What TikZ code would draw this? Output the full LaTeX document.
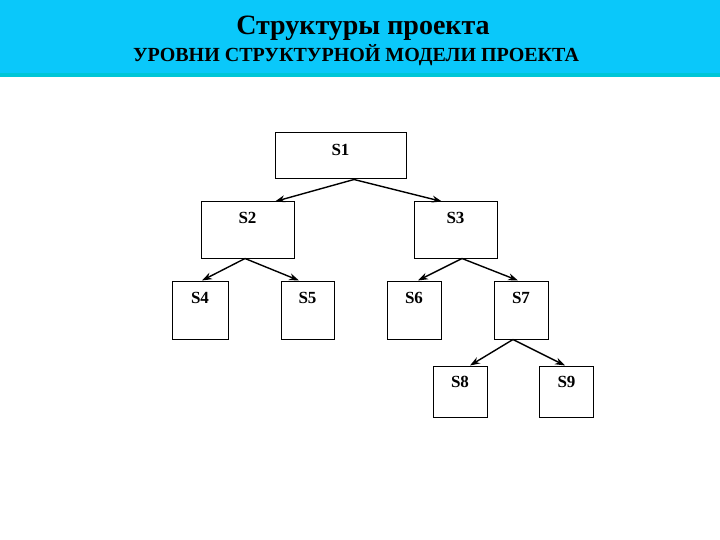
\documentclass[tikz,border=0pt]{standalone}
\usepackage{fontspec}
\setmainfont{Liberation Serif}
\usetikzlibrary{arrows.meta}
\definecolor{shapka}{RGB}{10,200,250}
\definecolor{polosa}{RGB}{0,198,215}
\begin{document}
\begin{tikzpicture}[x=1pt,y=-1pt,
  blok/.style={draw,line width=1pt,inner sep=0pt},
  metka/.style={font=\bfseries\fontsize{17}{17}\selectfont},
  strelka/.style={line width=1.4pt,-{Stealth[length=10pt,width=7pt]}}]
\useasboundingbox[fill=white] (0,0) rectangle (720,540);

%Шапка
\fill[shapka] (0,0) rectangle (720,73);
\fill[polosa] (0,73) rectangle (720,77);
\node[anchor=base,font=\bfseries\fontsize{28}{28}\selectfont] (zagolovok) at (363,35) {Структуры проекта};
\node[anchor=base,font=\bfseries\fontsize{20}{20}\selectfont] (podzagolovok) at (356,62) {УРОВНИ СТРУКТУРНОЙ МОДЕЛИ ПРОЕКТА};

%Уровень 1
\node[blok,minimum width=131pt,minimum height=46pt,label={[metka,anchor=center,yshift=-17pt]north:S1}] (S1) at (340.5,156) {};
%Уровень 2
\node[blok,minimum width=93pt,minimum height=56pt,label={[metka,anchor=center,yshift=-16pt]north:S2}] (S2) at (247.5,230) {};
\node[blok,minimum width=83pt,minimum height=56pt,label={[metka,anchor=center,yshift=-16pt]north:S3}] (S3) at (455.5,230) {};
%Уровень 3
\foreach \n/\x/\w in {S4/200/56,S5/307.5/53,S6/414/54,S7/521/54}{
    \node[blok,minimum width=\w pt,minimum height=58pt,label={[metka,anchor=center,yshift=-17pt]north:\n}] (\n) at (\x,310) {};
}
%Уровень 4
\foreach \n/\x in {S8/460,S9/566.5}{
    \node[blok,minimum width=54pt,minimum height=51pt,label={[metka,anchor=center,yshift=-16pt]north:\n}] (\n) at (\x,391.5) {};
}

%Связи
\foreach \a/\sa/\b/\sb in {S1/13.5/S2/27.5,S1/13.5/S3/-13.5,S2/-2.5/S4/2,S2/-2.5/S5/-8.5,
    S3/6.5/S6/4,S3/6.5/S7/-3,S7/-8/S8/10,S7/-8/S9/-1.5}{
    \draw[strelka] ([xshift=\sa pt]\a.south) -- ([xshift=\sb pt]\b.north);
}
\end{tikzpicture}
\end{document}
